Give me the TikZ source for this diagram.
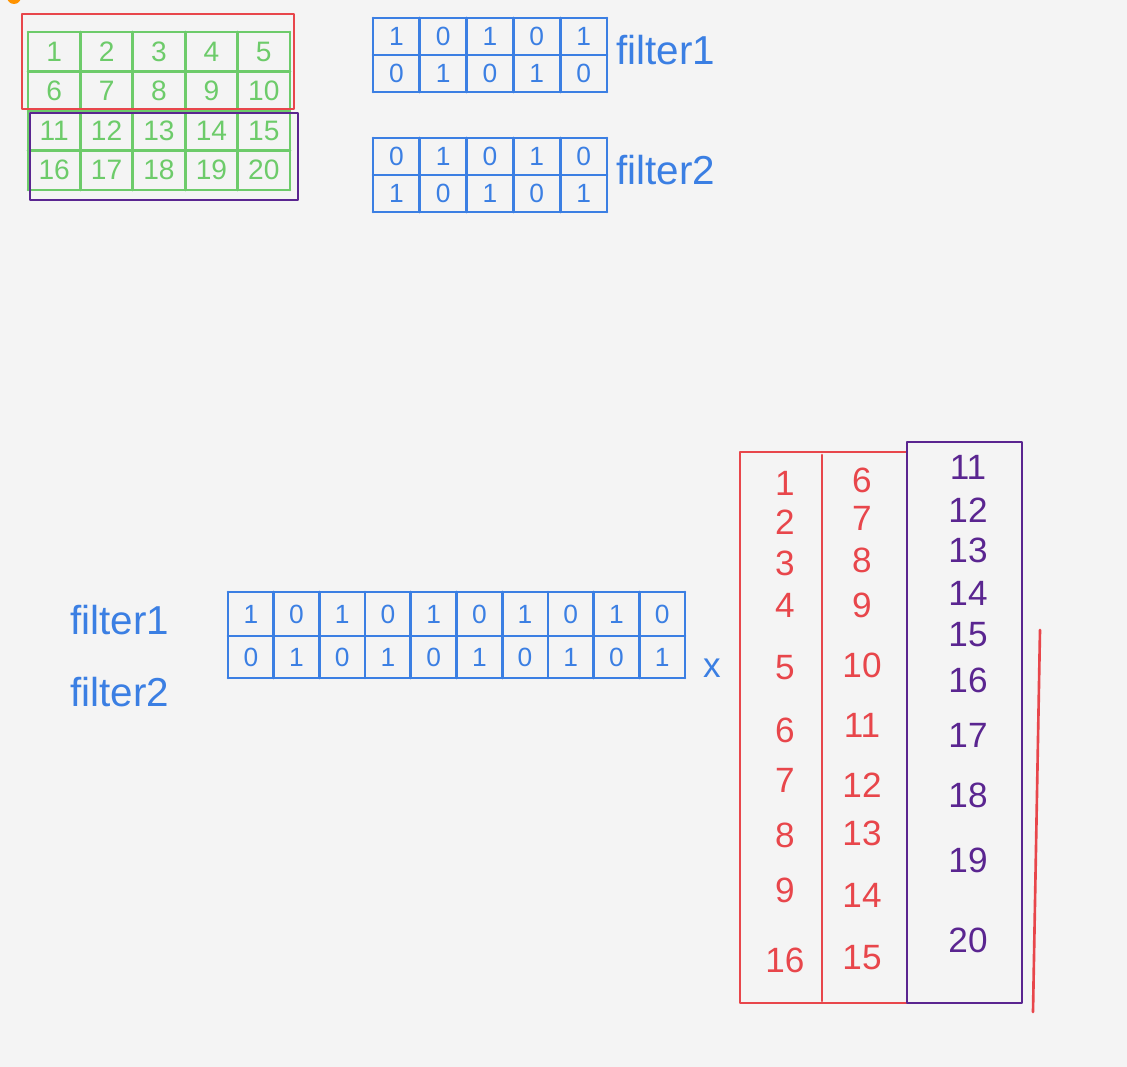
\documentclass[tikz,border=0pt]{standalone}
\usepackage{fontspec}
\setmainfont{Liberation Sans}
\usepackage{xcolor}
\usepackage{tikz}

\definecolor{penred}{HTML}{E8464B}
\definecolor{pengreen}{HTML}{6DCB6A}
\definecolor{penblue}{HTML}{3B7FE3}
\definecolor{penpurple}{HTML}{5A2590}
\definecolor{paper}{HTML}{F4F4F4}

\begin{document}
\begin{tikzpicture}[
  x=0.02cm, y=-0.02cm,
  pen/.style={line width=1.5pt, line cap=round, line join=round},
  num/.style={font=\fontsize{16}{18}\selectfont, inner sep=0pt},
  bit/.style={font=\fontsize{15}{17}\selectfont, inner sep=0pt, text=penblue},
  entry/.style={font=\fontsize{20}{22}\selectfont, inner sep=0pt},
  filtername/.style={font=\fontsize{23}{25}\selectfont, inner sep=0pt, text=penblue, anchor=west}
  ]

\fill[paper] (0,0) rectangle (1127,1067);
\useasboundingbox (0,0) rectangle (1127,1067);
\fill[orange!85!yellow] (14,-3) circle (7);

% Input 4x5
\foreach \c in {0,...,5}
  \draw[pen, pengreen] ({28+52.4*\c},32) -- ({28+52.4*\c},190);
\foreach \r in {0,...,4}
  \draw[pen, pengreen] (28,{32+39.5*\r}) -- (290,{32+39.5*\r});
\foreach \n in {1,...,20} {
  \pgfmathtruncatemacro\col{mod(\n-1,5)}
  \pgfmathtruncatemacro\row{(\n-1)/5}
  \node[num, text=pengreen] (in\n) at ({28+52.4*(\col+0.5)},{32+39.5*(\row+0.5)}) {\n};
}
\draw[pen, penred] (22,14) rectangle (294,109);
\draw[pen, penpurple] (30,113) rectangle (298,200);

% Filters (2x5)
\foreach \top/\name [count=\k] in {18/filter1, 138/filter2} {
  \foreach \c in {0,...,5}
    \draw[pen, penblue] ({373+46.8*\c},\top) -- ({373+46.8*\c},\top+74);
  \foreach \r in {0,1,2}
    \draw[pen, penblue] (373,\top+37*\r) -- (607,\top+37*\r);
  \node[filtername] (fname\k) at (616,\top+32) {\name};
}
\foreach \v [count=\i from 0] in {1,0,1,0,1,0,1,0,1,0} {
  \pgfmathtruncatemacro\col{mod(\i,5)}
  \pgfmathtruncatemacro\row{\i/5}
  \node[bit] (fa\i) at ({373+46.8*(\col+0.5)},{18+37*(\row+0.5)}) {\v};
}
\foreach \v [count=\i from 0] in {0,1,0,1,0,1,0,1,0,1} {
  \pgfmathtruncatemacro\col{mod(\i,5)}
  \pgfmathtruncatemacro\row{\i/5}
  \node[bit] (fb\i) at ({373+46.8*(\col+0.5)},{138+37*(\row+0.5)}) {\v};
}

% Flattened filters
\node[filtername] (lone) at (70,620) {filter1};
\node[filtername] (ltwo) at (70,692) {filter2};
\foreach \c in {0,...,10}
  \draw[pen, penblue] ({228+45.7*\c},592) -- ({228+45.7*\c},678);
\foreach \r in {592,636,678}
  \draw[pen, penblue] (228,\r) -- (685,\r);
\foreach \v [count=\i from 0] in {1,0,1,0,1,0,1,0,1,0}
  \node[bit] (ra\i) at ({228+45.7*(\i+0.5)},614) {\v};
\foreach \v [count=\i from 0] in {0,1,0,1,0,1,0,1,0,1}
  \node[bit] (rb\i) at ({228+45.7*(\i+0.5)},657) {\v};

\node[entry, text=penblue] (times) at (712,668) {x};

% Patches as columns
\draw[pen, penred] (740,452) rectangle (907,1003);
\draw[pen, penred] (822,455) -- (822,1001);
\draw[pen, penpurple] (907,442) rectangle (1022,1003);
\draw[pen, penred] (1040,630) -- (1033,1012);
\foreach \v/\y [count=\i] in {1/483, 2/522, 3/563, 4/605, 5/668, 6/730, 7/780, 8/835, 9/890, 16/960}
  \node[entry, text=penred] (pa\i) at (785,\y) {\v};
\foreach \v/\y [count=\i] in {6/480, 7/518, 8/560, 9/605, 10/665, 11/725, 12/785, 13/833, 14/895, 15/958}
  \node[entry, text=penred] (pb\i) at (862,\y) {\v};
\foreach \v/\y [count=\i] in {11/467, 12/510, 13/550, 14/593, 15/635, 16/680, 17/735, 18/795, 19/860, 20/940}
  \node[entry, text=penpurple] (pc\i) at (968,\y) {\v};

\end{tikzpicture}
\end{document}
